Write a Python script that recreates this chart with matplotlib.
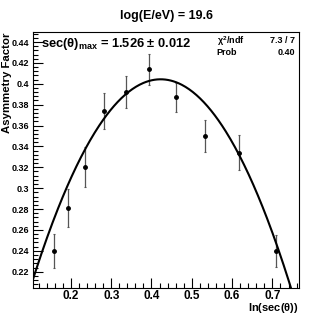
import numpy as np
import matplotlib
matplotlib.use("Agg")
import matplotlib.pyplot as plt
from matplotlib.ticker import MultipleLocator, FuncFormatter

plt.rcParams['font.family'] = ['Liberation Sans', 'DejaVu Sans']
plt.rcParams['font.weight'] = 'bold'
plt.rcParams['mathtext.fontset'] = 'custom'
plt.rcParams['mathtext.rm'] = 'Liberation Sans:bold'
plt.rcParams['mathtext.it'] = 'Liberation Sans:bold'
plt.rcParams['mathtext.bf'] = 'Liberation Sans:bold'

# measured points: ln(sec(theta)) vs asymmetry factor
ln_sec = [0.158, 0.194, 0.236, 0.283, 0.336, 0.395, 0.460, 0.534, 0.617, 0.709]
asym = [0.240, 0.281, 0.320, 0.374, 0.392, 0.414, 0.387, 0.350, 0.334, 0.240]
asym_err = [0.016, 0.018, 0.019, 0.017, 0.015, 0.015, 0.014, 0.015, 0.017, 0.0155]

# fitted parabola parameters
sec_max = 1.526
peak_val = 0.4043
curv = 1.91

fig = plt.figure(figsize=(3.32, 3.21), dpi=100)
ax = fig.add_axes([0.0994, 0.1028, 0.8012, 0.7975])

ax.errorbar(ln_sec, asym, yerr=asym_err, fmt='o', ms=2.5, color='black',
            ecolor='#555555', elinewidth=0.9, capsize=1, capthick=0.8)

xf = np.linspace(0.10, 0.78, 300)
yf = peak_val - curv * (xf - np.log(sec_max)) ** 2
ax.plot(xf, yf, color='black', lw=1.5)

ax.set_xlim(0.106, 0.766)
ax.set_ylim(0.2044, 0.4496)

ax.xaxis.set_major_locator(MultipleLocator(0.1))
ax.xaxis.set_minor_locator(MultipleLocator(0.02))
ax.yaxis.set_major_locator(MultipleLocator(0.02))
ax.yaxis.set_minor_locator(MultipleLocator(0.004))
ax.xaxis.set_major_formatter(FuncFormatter(lambda v, p: f'{round(v, 3):g}'))
ax.yaxis.set_major_formatter(FuncFormatter(lambda v, p: f'{round(v, 3):g}'))
ax.tick_params(which='major', direction='in', length=7, width=0.8, pad=3)
ax.tick_params(which='minor', direction='in', length=3.5, width=0.8)
ax.tick_params(axis='y', labelsize=6.5, pad=3)
ax.tick_params(axis='x', labelsize=8.5, pad=1.5)

fig.text(0.5, 0.95, 'log(E/eV) = 19.6', ha='center', va='center', fontsize=9, weight='bold')
ax.text(-0.096, 1.0, 'Asymmetry Factor', transform=ax.transAxes, rotation=90,
        ha='center', va='top', fontsize=8.2, weight='bold')
ax.text(1.0, -0.08, r'ln(sec($\theta$))', transform=ax.transAxes,
        ha='right', va='center', fontsize=8, weight='bold')

ax.text(0.03, 0.955, r'sec($\theta$)$_{\rm max}$ = 1.526 $\pm$ 0.012', transform=ax.transAxes,
        ha='left', va='center', fontsize=9.3, weight='bold')
ax.text(0.69, 0.966, r'$\chi^2$/ndf', transform=ax.transAxes, ha='left', va='center', fontsize=6.5)
ax.text(0.985, 0.966, '7.3 / 7', transform=ax.transAxes, ha='right', va='center', fontsize=6.5)
ax.text(0.69, 0.921, 'Prob', transform=ax.transAxes, ha='left', va='center', fontsize=6.5)
ax.text(0.985, 0.921, '0.40', transform=ax.transAxes, ha='right', va='center', fontsize=6.5)

fig.savefig('out.png', dpi=100)
